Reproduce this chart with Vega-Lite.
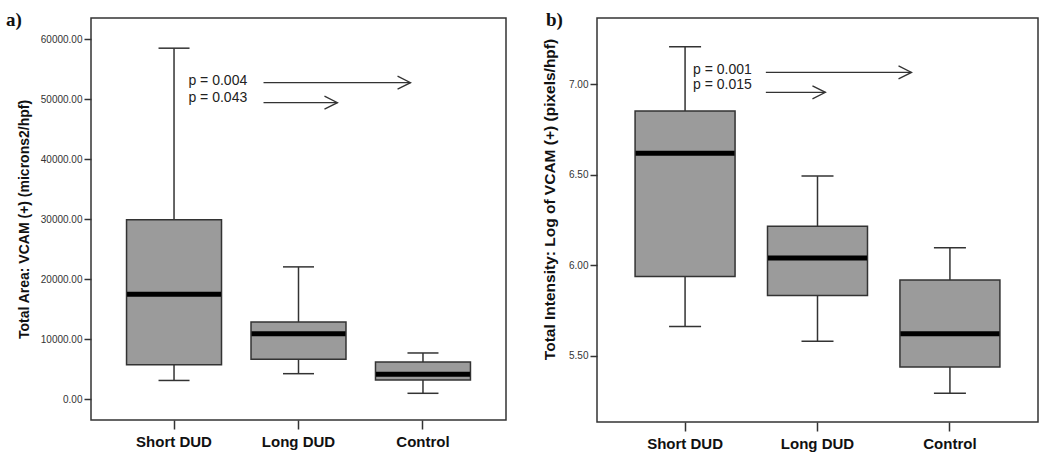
{
  "$schema": "https://vega.github.io/schema/vega-lite/v6.json",
  "background": "white",
  "padding": {"left": 5, "top": 10, "right": 5, "bottom": 5},
  "bounds": "flush",
  "spacing": 91,
  "datasets": {
    "boxA": [
      {"group": "Short DUD", "lower": 3170, "q1": 5780, "median": 17550, "q3": 29950, "upper": 58550},
      {"group": "Long DUD", "lower": 4300, "q1": 6700, "median": 10970, "q3": 12900, "upper": 22100},
      {"group": "Control", "lower": 1030, "q1": 3250, "median": 4200, "q3": 6250, "upper": 7750}
    ],
    "boxB": [
      {"group": "Short DUD", "lower": 5.662, "q1": 5.939, "median": 6.618, "q3": 6.851, "upper": 7.206},
      {"group": "Long DUD", "lower": 5.581, "q1": 5.834, "median": 6.04, "q3": 6.216, "upper": 6.492},
      {"group": "Control", "lower": 5.294, "q1": 5.439, "median": 5.623, "q3": 5.919, "upper": 6.097}
    ],
    "annA": [
      {"label": "p = 0.004", "tx": 1.116, "ty": 53080, "ax": 1.719, "ax2": 2.9, "ay": 52800},
      {"label": "p = 0.043", "tx": 1.116, "ty": 50250, "ax": 1.719, "ax2": 2.313, "ay": 49470}
    ],
    "annB": [
      {"label": "p = 0.001", "tx": 1.06, "ty": 7.079, "ax": 1.61, "ax2": 2.71, "ay": 7.064},
      {"label": "p = 0.015", "tx": 1.06, "ty": 6.993, "ax": 1.61, "ax2": 2.06, "ay": 6.954}
    ],
    "tagA": [{"tag": "a)", "x": -0.35, "y": 62250}],
    "tagB": [{"tag": "b)", "x": -0.05, "y": 7.32}]
  },
  "hconcat": [
    {
      "width": 415,
      "height": 402,
      "resolve": {"scale": {"x": "independent"}, "axis": {"x": "independent"}},
      "layer": [
        {
          "data": {"name": "boxA"},
          "layer": [
            {
              "mark": {"type": "rule", "color": "#333", "strokeWidth": 1.5},
              "encoding": {
                "x": {"field": "group", "type": "nominal", "title": null, "sort": ["Short DUD", "Long DUD", "Control"], "scale": {"paddingInner": 0, "paddingOuter": 0.167}, "axis": {"labelAngle": 0, "labelFontSize": 15, "labelFontWeight": "bold", "labelColor": "#111", "tickSize": 9, "labelPadding": 5}},
                "y": {"field": "lower", "type": "quantitative", "title": "Total Area: VCAM (+) (microns2/hpf)", "scale": {"domain": [-3420, 63580], "nice": false, "zero": false}, "axis": {"titleFontSize": 14, "values": [0, 10000, 20000, 30000, 40000, 50000, 60000], "format": ".2f", "labelPadding": 2, "titlePadding": 9}},
                "y2": {"field": "upper"}
              }
            },
            {
              "mark": {"type": "bar", "fill": "#9b9b9b", "stroke": "#333", "strokeWidth": 1.5, "width": {"band": 0.763}},
              "encoding": {
                "x": {"field": "group", "type": "nominal", "title": null, "sort": ["Short DUD", "Long DUD", "Control"]},
                "y": {"field": "q1", "type": "quantitative", "title": "Total Area: VCAM (+) (microns2/hpf)"},
                "y2": {"field": "q3"}
              }
            },
            {
              "mark": {"type": "tick", "color": "#000", "opacity": 1, "thickness": 5, "size": 94, "orient": "horizontal"},
              "encoding": {
                "x": {"field": "group", "type": "nominal", "title": null, "sort": ["Short DUD", "Long DUD", "Control"]},
                "y": {"field": "median", "type": "quantitative", "title": "Total Area: VCAM (+) (microns2/hpf)"}
              }
            },
            {
              "mark": {"type": "tick", "color": "#333", "opacity": 1, "thickness": 1.5, "size": 31, "orient": "horizontal"},
              "encoding": {
                "x": {"field": "group", "type": "nominal", "title": null, "sort": ["Short DUD", "Long DUD", "Control"]},
                "y": {"field": "lower", "type": "quantitative", "title": "Total Area: VCAM (+) (microns2/hpf)"}
              }
            },
            {
              "mark": {"type": "tick", "color": "#333", "opacity": 1, "thickness": 1.5, "size": 31, "orient": "horizontal"},
              "encoding": {
                "x": {"field": "group", "type": "nominal", "title": null, "sort": ["Short DUD", "Long DUD", "Control"]},
                "y": {"field": "upper", "type": "quantitative", "title": "Total Area: VCAM (+) (microns2/hpf)"}
              }
            }
          ]
        },
        {
          "layer": [
            {
              "data": {"name": "annA"},
              "mark": {"type": "text", "align": "left", "baseline": "middle", "font": "Liberation Sans", "fontSize": 14, "color": "#222"},
              "encoding": {
                "x": {"field": "tx", "type": "quantitative", "scale": {"domain": [0.3333, 3.6667], "nice": false, "zero": false}, "axis": null},
                "y": {"field": "ty", "type": "quantitative", "title": "Total Area: VCAM (+) (microns2/hpf)"},
                "text": {"field": "label"}
              }
            },
            {
              "data": {"name": "annA"},
              "mark": {"type": "rule", "color": "#333", "strokeWidth": 1.3},
              "encoding": {
                "x": {"field": "ax", "type": "quantitative", "axis": null},
                "x2": {"field": "ax2"},
                "y": {"field": "ay", "type": "quantitative", "title": "Total Area: VCAM (+) (microns2/hpf)"}
              }
            },
            {
              "data": {"name": "annA"},
              "mark": {"type": "point", "shape": "M-2,-1L0,0L-2,1", "size": 169, "filled": false, "stroke": "#333", "strokeWidth": 1.3, "opacity": 1},
              "encoding": {
                "x": {"field": "ax2", "type": "quantitative", "axis": null},
                "y": {"field": "ay", "type": "quantitative", "title": "Total Area: VCAM (+) (microns2/hpf)"}
              }
            },
            {
              "data": {"name": "tagA"},
              "mark": {"type": "text", "align": "left", "baseline": "alphabetic", "font": "Liberation Serif", "fontSize": 19, "fontWeight": "bold", "color": "#111"},
              "encoding": {
                "x": {"field": "x", "type": "quantitative", "axis": null},
                "y": {"field": "y", "type": "quantitative", "title": "Total Area: VCAM (+) (microns2/hpf)"},
                "text": {"field": "tag"}
              }
            }
          ]
        }
      ]
    },
    {
      "width": 441,
      "height": 404,
      "resolve": {"scale": {"x": "independent"}, "axis": {"x": "independent"}},
      "layer": [
        {
          "data": {"name": "boxB"},
          "layer": [
            {
              "mark": {"type": "rule", "color": "#333", "strokeWidth": 1.5},
              "encoding": {
                "x": {"field": "group", "type": "nominal", "title": null, "sort": ["Short DUD", "Long DUD", "Control"], "scale": {"paddingInner": 0, "paddingOuter": 0.165}, "axis": {"labelAngle": 0, "labelFontSize": 15, "labelFontWeight": "bold", "labelColor": "#111", "tickSize": 9, "labelPadding": 5}},
                "y": {"field": "lower", "type": "quantitative", "title": "Total Intensity: Log of VCAM (+) (pixels/hpf)", "scale": {"domain": [5.136, 7.364], "nice": false, "zero": false}, "axis": {"titleFontSize": 15.5, "titleY": 181, "values": [5.5, 6, 6.5, 7], "format": ".2f", "labelPadding": 2, "titlePadding": 11}},
                "y2": {"field": "upper"}
              }
            },
            {
              "mark": {"type": "bar", "fill": "#9b9b9b", "stroke": "#333", "strokeWidth": 1.5, "width": {"band": 0.755}},
              "encoding": {
                "x": {"field": "group", "type": "nominal", "title": null, "sort": ["Short DUD", "Long DUD", "Control"]},
                "y": {"field": "q1", "type": "quantitative", "title": "Total Intensity: Log of VCAM (+) (pixels/hpf)"},
                "y2": {"field": "q3"}
              }
            },
            {
              "mark": {"type": "tick", "color": "#000", "opacity": 1, "thickness": 5, "size": 99, "orient": "horizontal"},
              "encoding": {
                "x": {"field": "group", "type": "nominal", "title": null, "sort": ["Short DUD", "Long DUD", "Control"]},
                "y": {"field": "median", "type": "quantitative", "title": "Total Intensity: Log of VCAM (+) (pixels/hpf)"}
              }
            },
            {
              "mark": {"type": "tick", "color": "#333", "opacity": 1, "thickness": 1.5, "size": 32, "orient": "horizontal"},
              "encoding": {
                "x": {"field": "group", "type": "nominal", "title": null, "sort": ["Short DUD", "Long DUD", "Control"]},
                "y": {"field": "lower", "type": "quantitative", "title": "Total Intensity: Log of VCAM (+) (pixels/hpf)"}
              }
            },
            {
              "mark": {"type": "tick", "color": "#333", "opacity": 1, "thickness": 1.5, "size": 32, "orient": "horizontal"},
              "encoding": {
                "x": {"field": "group", "type": "nominal", "title": null, "sort": ["Short DUD", "Long DUD", "Control"]},
                "y": {"field": "upper", "type": "quantitative", "title": "Total Intensity: Log of VCAM (+) (pixels/hpf)"}
              }
            }
          ]
        },
        {
          "layer": [
            {
              "data": {"name": "annB"},
              "mark": {"type": "text", "align": "left", "baseline": "middle", "font": "Liberation Sans", "fontSize": 14, "color": "#222"},
              "encoding": {
                "x": {"field": "tx", "type": "quantitative", "scale": {"domain": [0.335, 3.665], "nice": false, "zero": false}, "axis": null},
                "y": {"field": "ty", "type": "quantitative", "title": "Total Intensity: Log of VCAM (+) (pixels/hpf)"},
                "text": {"field": "label"}
              }
            },
            {
              "data": {"name": "annB"},
              "mark": {"type": "rule", "color": "#333", "strokeWidth": 1.3},
              "encoding": {
                "x": {"field": "ax", "type": "quantitative", "axis": null},
                "x2": {"field": "ax2"},
                "y": {"field": "ay", "type": "quantitative", "title": "Total Intensity: Log of VCAM (+) (pixels/hpf)"}
              }
            },
            {
              "data": {"name": "annB"},
              "mark": {"type": "point", "shape": "M-2,-1L0,0L-2,1", "size": 169, "filled": false, "stroke": "#333", "strokeWidth": 1.3, "opacity": 1},
              "encoding": {
                "x": {"field": "ax2", "type": "quantitative", "axis": null},
                "y": {"field": "ay", "type": "quantitative", "title": "Total Intensity: Log of VCAM (+) (pixels/hpf)"}
              }
            },
            {
              "data": {"name": "tagB"},
              "mark": {"type": "text", "align": "left", "baseline": "alphabetic", "font": "Liberation Serif", "fontSize": 19, "fontWeight": "bold", "color": "#111"},
              "encoding": {
                "x": {"field": "x", "type": "quantitative", "axis": null},
                "y": {"field": "y", "type": "quantitative", "title": "Total Intensity: Log of VCAM (+) (pixels/hpf)"},
                "text": {"field": "tag"}
              }
            }
          ]
        }
      ]
    }
  ],
  "config": {
    "view": {"stroke": "#333", "strokeWidth": 1.5},
    "axis": {"domain": false, "grid": false, "tickColor": "#333", "tickWidth": 1.5, "tickSize": 7, "labelFont": "Liberation Sans", "labelFontSize": 10, "labelColor": "#333", "titleFont": "Liberation Sans", "titleFontWeight": "bold", "titleColor": "#111"}
  }
}
